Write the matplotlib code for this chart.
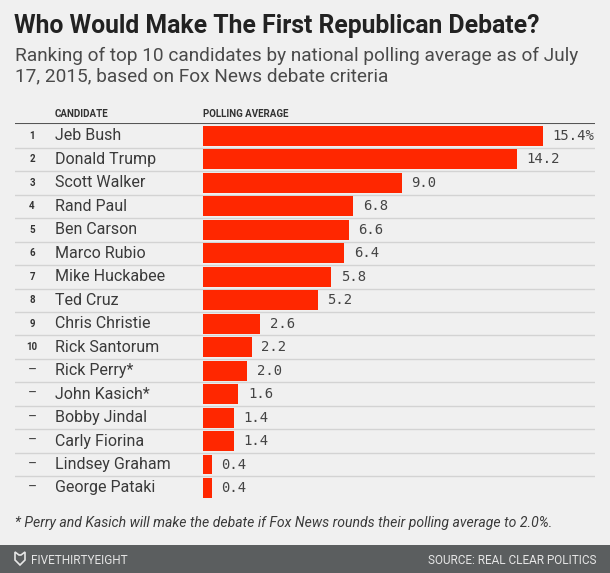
import matplotlib.pyplot as plt
import matplotlib.transforms as mtransforms
from matplotlib.patches import Rectangle, Polygon

plt.rcParams['font.family'] = ['Roboto', 'DejaVu Sans']

ranks = ['1', '2', '3', '4', '5', '6', '7', '8', '9', '10',
         '–', '–', '–', '–', '–', '–']
candidates = ['Jeb Bush', 'Donald Trump', 'Scott Walker', 'Rand Paul', 'Ben Carson',
              'Marco Rubio', 'Mike Huckabee', 'Ted Cruz', 'Chris Christie',
              'Rick Santorum', 'Rick Perry*', 'John Kasich*', 'Bobby Jindal',
              'Carly Fiorina', 'Lindsey Graham', 'George Pataki']
polling = [15.4, 14.2, 9.0, 6.8, 6.6, 6.4, 5.8, 5.2, 2.6, 2.2,
           2.0, 1.6, 1.4, 1.4, 0.4, 0.4]

W, H = 610, 573
bg = '#f0f0f0'
red = '#ff2700'


def fx(x):
    return x / W


def fy(y):
    return 1 - y / H


fig = plt.figure(figsize=(W / 100, H / 100), dpi=100, facecolor=bg)

# title block
fig.text(fx(14), fy(33), 'Who Would Make The First Republican Debate?',
         fontsize=17.8, fontweight='bold', color='#222222', va='baseline', ha='left')
fig.text(fx(15), fy(61), 'Ranking of top 10 candidates by national polling average as of July',
         fontsize=13.7, color='#4a4a4a', va='baseline', ha='left')
fig.text(fx(15), fy(81), '17, 2015, based on Fox News debate criteria',
         fontsize=13.7, color='#4a4a4a', va='baseline', ha='left')

# column headers
fig.text(fx(55), fy(117), 'CANDIDATE', fontsize=7, fontweight='bold',
         color='#333333', va='baseline', ha='left')
fig.text(fx(203), fy(117), 'POLLING AVERAGE', fontsize=7, fontweight='bold',
         color='#333333', va='baseline', ha='left')

# table axes
ax = fig.add_axes([fx(15), fy(500), fx(595) - fx(15), fy(123) - fy(500)])
ax.set_facecolor(bg)
scale = 22.08  # px per point
ax.set_xlim(-188 / scale, 392 / scale)
n = len(candidates)
ax.set_ylim(n - 0.488, -0.554)
ax.axis('off')

rows = list(range(n))
ax.barh(rows, polling, height=0.85, color=red, left=0, zorder=2)

ax.axhline(-0.554, color='#555555', lw=1.5, zorder=3)
for i in range(n - 1):
    ax.axhline(i + 0.5, color='#d3d3d3', lw=1, zorder=1)

trans = mtransforms.blended_transform_factory(fig.transFigure, ax.transData)
for i in rows:
    if ranks[i] == '–':
        ax.text(fx(32), i, ranks[i], transform=trans, fontsize=10,
                color='#444444', ha='center', va='center')
    else:
        ax.text(fx(32), i, ranks[i], transform=trans, fontsize=7,
                fontweight='bold', color='#333333', ha='center', va='center')
    ax.text(fx(55), i, candidates[i], transform=trans, fontsize=11.5,
            color='#3a3a3a', ha='left', va='center')
    label = f'{polling[i]:.1f}' + ('%' if i == 0 else '')
    ax.annotate(label, (polling[i], i), xytext=(7, 0), textcoords='offset points',
                fontsize=10, family='DejaVu Sans Mono', color='#444444',
                ha='left', va='center')

# footnote
fig.text(fx(15), fy(527),
         '* Perry and Kasich will make the debate if Fox News rounds their polling average to 2.0%.',
         fontsize=10.1, style='italic', color='#3a3a3a', va='baseline', ha='left')

# footer band
fig.patches.append(Rectangle((0, 0), 1, fy(545), transform=fig.transFigure,
                             facecolor='#5b5e5f', edgecolor='none'))
logo = [(15, 552), (19, 555), (21, 555), (25, 552), (25, 560), (20, 565), (15, 560)]
fig.patches.append(Polygon([(fx(x), fy(y)) for x, y in logo], closed=True,
                           transform=fig.transFigure, facecolor='none',
                           edgecolor='#e6e6e6', lw=1.2))
fig.text(fx(31), fy(564), 'FIVETHIRTYEIGHT', fontsize=8.5, color='#e6e6e6',
         va='baseline', ha='left')
fig.text(fx(597), fy(564), 'SOURCE: REAL CLEAR POLITICS', fontsize=8.5,
         color='#e6e6e6', va='baseline', ha='right')

fig.savefig('out.png', dpi=100, facecolor=bg)
